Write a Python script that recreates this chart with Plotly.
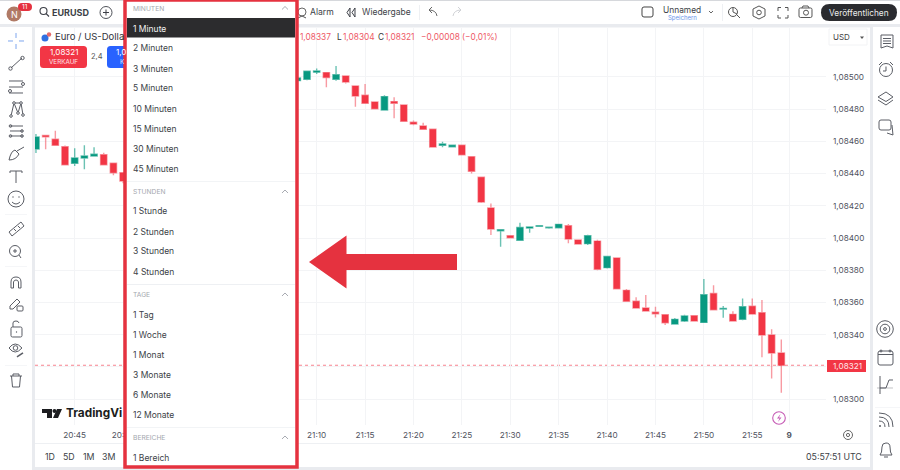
import plotly.graph_objects as go

# ---------- chart data ----------
times = ["20:41","20:42","20:43","20:44","20:45","20:46","20:47","20:48","20:49","20:50",
         "21:08","21:09","21:10","21:11","21:12","21:13","21:14","21:15","21:16","21:17","21:18","21:19",
         "21:20","21:21","21:22","21:23","21:24","21:25","21:26","21:27","21:28","21:29",
         "21:30","21:31","21:32","21:33","21:34","21:35","21:36","21:37","21:38","21:39",
         "21:40","21:41","21:42","21:43","21:44","21:45","21:46","21:47","21:48","21:49",
         "21:50","21:51","21:52","21:53","21:54","21:55","21:56","21:57","21:58"]
opens = [1.084553,1.084637,1.084613,1.084567,1.084464,1.084497,1.084509,1.084517,1.084464,1.084405,
         1.084977,1.084986,1.085030,1.085027,1.084986,1.085006,1.084944,1.084886,1.084845,1.084795,1.084847,1.084826,
         1.084719,1.084696,1.084675,1.084576,1.084567,1.084576,1.084505,1.084377,1.084186,1.084045,
         1.084014,1.083986,1.084062,1.084073,1.084064,1.084064,1.084076,1.083988,1.083965,1.083981,
         1.083816,1.083876,1.083675,1.083607,1.083565,1.083539,1.083524,1.083466,1.083484,1.083517,
         1.083476,1.083656,1.083559,1.083526,1.083495,1.083576,1.083536,1.083398,1.083286]
highs = [1.084646,1.084637,1.084666,1.084575,1.084557,1.084576,1.084563,1.084530,1.084466,1.084407,
         1.084994,1.085040,1.085052,1.085030,1.085068,1.085010,1.084946,1.084957,1.084847,1.084886,1.084874,1.084830,
         1.084729,1.084716,1.084678,1.084598,1.084576,1.084580,1.084508,1.084380,1.084215,1.084054,
         1.084018,1.084095,1.084070,1.084080,1.084071,1.084087,1.084087,1.083990,1.084020,1.083990,
         1.083890,1.083880,1.083683,1.083632,1.083646,1.083573,1.083526,1.083503,1.083524,1.083520,
         1.083745,1.083706,1.083578,1.083545,1.083625,1.083625,1.083615,1.083433,1.083370]
lows  = [1.084528,1.084551,1.084574,1.084450,1.084447,1.084427,1.084505,1.084450,1.084389,1.084340,
         1.084975,1.084980,1.085019,1.084936,1.084977,1.084960,1.084815,1.084834,1.084799,1.084793,1.084743,1.084720,
         1.084700,1.084673,1.084563,1.084563,1.084567,1.084514,1.084401,1.084217,1.084019,1.083946,
         1.084000,1.083984,1.084033,1.084070,1.084058,1.084063,1.083967,1.083960,1.083957,1.083800,
         1.083810,1.083680,1.083605,1.083563,1.083543,1.083507,1.083460,1.083463,1.083478,1.083482,
         1.083474,1.083552,1.083505,1.083480,1.083490,1.083526,1.083259,1.083128,1.083040]
closes= [1.084627,1.084629,1.084576,1.084455,1.084497,1.084509,1.084520,1.084455,1.084405,1.084354,
         1.084994,1.085035,1.085037,1.084996,1.085014,1.084969,1.084882,1.084837,1.084803,1.084878,1.084837,1.084725,
         1.084708,1.084675,1.084565,1.084584,1.084576,1.084517,1.084414,1.084224,1.084056,1.084052,
         1.084002,1.084066,1.084068,1.084076,1.084067,1.084085,1.083994,1.083963,1.084014,1.083806,
         1.083886,1.083685,1.083607,1.083565,1.083547,1.083530,1.083474,1.083495,1.083516,1.083484,
         1.083648,1.083555,1.083563,1.083484,1.083573,1.083528,1.083398,1.083286,1.083210]
last_price = 1.08321
price_ticks  = [1.0830,1.0832,1.0834,1.0836,1.0838,1.0840,1.0842,1.0844,1.0846,1.0848,1.0850]
price_labels = ["1,08300","","1,08340","1,08360","1,08380","1,08400","1,08420","1,08440","1,08460","1,08480","1,08500"]
time_ticks  = ["20:45","20:50","20:55","21:00","21:05","21:10","21:15","21:20","21:25","21:30","21:35","21:40","21:45","21:50","21:55","21:58:49"]
time_labels = ["20:45","20:50","","","","21:10","21:15","21:20","21:25","21:30","21:35","21:40","21:45","21:50","21:55","<b>9</b>"]
minutes_group = ["1 Minute","2 Minuten","3 Minuten","5 Minuten","10 Minuten","15 Minuten","30 Minuten","45 Minuten"]
hours_group = ["1 Stunde","2 Stunden","3 Stunden","4 Stunden"]
days_group = ["1 Tag","1 Woche","1 Monat","3 Monate","6 Monate","12 Monate"]
range_group = ["1 Bereich"]
ranges_bar = ["1D","5D","1M","3M"]

DAY = "2023-11-08 "
W, H = 900, 470
FONT = "Inter"
RED, GREEN = "#f23645", "#089981"
UI_RED = "#e5323f"
INK = "#3c3f47"
GREY = "#e9ebef"
SEP = "#eef0f3"

fig = go.Figure(go.Candlestick(
    x=[DAY + t for t in times], open=opens, high=highs, low=lows, close=closes,
    increasing=dict(fillcolor=GREEN, line=dict(color="rgba(8,153,129,0.6)", width=1.4)),
    decreasing=dict(fillcolor=RED, line=dict(color="rgba(242,54,69,0.5)", width=1.4)),
    whiskerwidth=0, showlegend=False, hoverinfo="skip"))

shapes, notes = [], []
def X(x): return x / W
def Y(y): return 1 - y / H
def rect(x0, y0, x1, y1, fill=None, line=None, lw=1):
    shapes.append(dict(type="rect", xref="paper", yref="paper", x0=X(x0), x1=X(x1), y0=Y(y0), y1=Y(y1),
                       fillcolor=fill or "rgba(0,0,0,0)", line=dict(color=line or "rgba(0,0,0,0)", width=lw if line else 0), layer="above"))
def path(cmds, fill=None, line=INK, lw=1):
    out = []
    for c in cmds:
        if c == "Z":
            out.append("Z")
        else:
            k, *p = c
            out.append(k + " " + " ".join(f"{X(p[i]):.5f} {Y(p[i+1]):.5f}" for i in range(0, len(p), 2)))
    shapes.append(dict(type="path", xref="paper", yref="paper", path=" ".join(out),
                       fillcolor=fill or "rgba(0,0,0,0)", line=dict(color=line or "rgba(0,0,0,0)", width=lw if line else 0), layer="above"))
def ln(*pts, color=INK, lw=1):
    path([("M", *pts[0])] + [("L", *p) for p in pts[1:]], line=color, lw=lw)
def rrect(x0, y0, x1, y1, r, fill=None, line=None, lw=1):
    path([("M", x0 + r, y0), ("L", x1 - r, y0), ("Q", x1, y0, x1, y0 + r), ("L", x1, y1 - r), ("Q", x1, y1, x1 - r, y1),
          ("L", x0 + r, y1), ("Q", x0, y1, x0, y1 - r), ("L", x0, y0 + r), ("Q", x0, y0, x0 + r, y0), "Z"], fill=fill, line=line, lw=lw)
def circ(cx, cy, r, fill=None, line=INK, lw=1):
    shapes.append(dict(type="circle", xref="paper", yref="paper", x0=X(cx - r), x1=X(cx + r), y0=Y(cy - r), y1=Y(cy + r),
                       fillcolor=fill or "rgba(0,0,0,0)", line=dict(color=line or "rgba(0,0,0,0)", width=lw if line else 0), layer="above"))
def T(x, y, s, size=9.5, color=INK, anchor="left", bold=False):
    notes.append(dict(xref="paper", yref="paper", x=X(x), y=Y(y), text=f"<b>{s}</b>" if bold else s, showarrow=False,
                      xanchor=anchor, yanchor="middle", borderpad=0, font=dict(family=FONT, size=size, color=color)))
def chev(cx, cy, color="#a8abb2"):
    ln((cx - 3, cy + 1.5), (cx, cy - 1.5), (cx + 3, cy + 1.5), color=color)

# ---------- frame ----------
rect(0, 0, W, 25, fill="white")
rect(0, 24, W, 27.5, fill=GREY)
rect(0, 0, W, 1, fill="#d6d8dc")
rect(0, 27, 32, H, fill="white")
rect(32, 25, 35, H, fill=GREY)
rect(870, 25, 873, H, fill=GREY)
rect(873, 27, W, H, fill="white")
rect(35, 467, 870, H, fill=GREY)
rect(35, 443, 870, 444, fill=SEP)

# ---------- top bar ----------
circ(14, 14, 7.5, fill="#b07a66", line=None)
T(14, 14.5, "N", 9, "white", "center")
rrect(18, 3, 32, 11, 4, fill=UI_RED)
T(25, 7, "11", 6.5, "white", "center")
circ(43.5, 11, 3.5, lw=1.1); ln((46, 13.5), (49, 16.5), lw=1.1)
T(50.5, 12.5, "EURUSD", 9, INK, bold=True)
circ(106, 12.5, 6, lw=0.9); ln((103, 12.5), (109, 12.5)); ln((106, 9.5), (106, 15.5))
circ(302, 12, 4, lw=0.9, line="#555"); ln((298, 18), (302, 16), (306, 18), color="#555")
T(308.5, 12.5, "Alarm", 8.6)
ln((350, 8), (347, 12.5), (350, 17), (350, 8)); ln((355, 8), (352, 12.5), (355, 17), (355, 8))
T(360.5, 12.5, "Wiedergabe", 8.5)
rect(419, 5, 420, 20, fill=SEP)
path([("M", 437, 16), ("Q", 436, 10, 429, 10), ("M", 432, 7), ("L", 429, 10), ("L", 432, 13)], line="#666")
path([("M", 453, 16), ("Q", 454, 10, 461, 10), ("M", 458, 7), ("L", 461, 10), ("L", 458, 13)], line="#d0d2d6")
rrect(642, 7, 653, 17, 2, line="#444", lw=1)
T(682, 9.5, "Unnamed", 8.4, INK, "center")
T(682, 18, "Speichern", 6, "#6b96ea", "center")
ln((709, 11), (711, 13), (713, 11), color="#666")
rect(722, 4, 723, 21, fill=SEP)
circ(733, 12, 4.5, lw=1, line="#555"); ln((733, 8), (733, 12), (737, 14), color="#555"); ln((737, 15), (740, 18), color="#555")
path([("M", 759, 6), ("L", 765, 9), ("L", 765, 16), ("L", 759, 19), ("L", 753, 16), ("L", 753, 9), "Z"], line="#555")
circ(759, 12.5, 2.3, line="#555")
for a, b, c, d in [(778, 11, 778, 7.5), (788, 11, 788, 7.5), (778, 15, 778, 18), (788, 15, 788, 18)]:
    ln((a, b), (c, d), (a + (3 if a == 778 else -3), d), color="#555")
rrect(799, 8, 812, 17.5, 1.5, line="#555"); circ(806, 12.7, 2.5, line="#555"); ln((802, 8), (803, 6), (808, 6), (809, 8), color="#555")
rrect(821, 4, 897, 21, 8.5, fill="#2a2b2f")
T(858.5, 12.7, "Veröffentlichen", 8.3, "#ececec", "center")

# ---------- legend area ----------
circ(45, 38, 3.5, fill="#2f6fe0", line=None); circ(49, 34.5, 2.2, fill="#e36a6a", line=None)
T(53.5, 37, "Euro / US-Dolla", 9.5, "#2f323a")
rrect(40, 46, 87, 68, 3.5, fill=RED)
T(63.5, 52.5, "1,08321", 8, "white", "center")
T(63.5, 62, "VERKAUF", 6.3, "#ffe3e6", "center")
T(97, 56.5, "2,4", 7.5, "#555", "center")
rrect(107, 46, 130, 68, 3.5, fill="#2962ff")
T(115, 52.5, "1,0", 8, "white", "left")
T(119, 62, "K", 6.3, "#dfe6ff", "left")
OHLC_RED = "#ee5a66"
T(299, 37, "1,08337", 8.3, OHLC_RED)
T(335.5, 37, "L", 8.3, "#333")
T(342, 37, "1,08304", 8.3, OHLC_RED)
T(377, 37, "C", 8.3, "#333")
T(384, 37, "1,08321", 8.3, OHLC_RED)
T(420, 37, "−0,00008 (−0,01%)", 8.3, OHLC_RED)

# ---------- price axis extras ----------
rect(829, 29, 867, 45, fill="white", line="#f2f3f5")
T(832, 37.5, "USD", 8, "#444")
path([("M", 860, 36.5), ("L", 864, 36.5), ("L", 862, 39), "Z"], fill="#555", line=None)
rect(827, 360, 866, 372, fill=RED)
T(847, 366, "1,08321", 8.2, "#ffe6e8", "center")
circ(848, 435, 4.5, line="#666"); circ(848, 435, 1.6, line="#666")

# ---------- bottom bar ----------
for x, s in zip([50, 69, 89, 108], ranges_bar):
    T(x, 456.5, s, 8.8, INK, "center")
T(863, 456.5, "05:57:51 UTC", 8.8, INK, "right")
circ(779, 418, 6.3, line="#c65bb5", lw=1.1)
path([("M", 780.5, 414), ("L", 777, 418.5), ("L", 779.5, 418.5), ("L", 778, 422), ("L", 781.5, 417.5), ("L", 779, 417.5), "Z"], fill="#c65bb5", line=None)

# ---------- TradingView logo ----------
path([("M", 42, 409), ("L", 52, 409), ("L", 52, 418), ("L", 47, 418), ("L", 47, 413), ("L", 42, 413), "Z"], fill="#1c1d20", line=None)
circ(54.5, 411, 2, fill="#1c1d20", line=None)
path([("M", 57, 409), ("L", 62, 409), ("L", 58, 418), ("L", 53, 418), "Z"], fill="#1c1d20", line=None)
T(64.5, 412.5, "TradingVi", 11.8, "#1c1d20", bold=True)

# ---------- left toolbar ----------
BL = "#7ea6ee"
for a in [((16, 33), (16, 38)), ((16, 44), (16, 49)), ((8, 41), (13, 41)), ((19, 41), (24, 41))]:
    ln(*a, color=BL)
C = "#5a5d65"
ln((11, 68), (22, 58), color=C); circ(10.5, 68.5, 1.7, line=C); circ(22.5, 58, 1.7, line=C)
for y in (81, 87, 93):
    ln((9, y), (23, y), color=C)
circ(23, 84, 1.5, line=C); circ(10, 91, 1.5, line=C)
ln((11, 116), (14, 103), (18, 113), (21, 103), (23, 115), color=C); ln((14, 103), (21, 103), color=C)
for p in [(11, 116), (14, 103), (18, 113), (21, 103), (23, 115)]:
    circ(p[0], p[1], 1.3, fill="white", line=C)
for y in (126, 131, 136):
    ln((10, y), (23, y), color=C)
circ(10.5, 126, 1.3, line=C); circ(22, 131, 1.3, line=C); circ(10.5, 136, 1.3, line=C); circ(22, 136, 1.3, line=C)
path([("M", 9, 160), ("Q", 11, 151, 15, 150), ("L", 19, 154), ("Q", 16, 160, 9, 160), "Z"], line=C)
ln((17, 151), (24, 147), color=C)
ln((10, 171), (22, 171), color=C); ln((16, 171), (16, 183), color=C); ln((10, 171), (10, 173), color=C); ln((22, 171), (22, 173), color=C)
circ(16, 199, 8, line=C); circ(13, 197, 0.7, fill=C, line=None); circ(19, 197, 0.7, fill=C, line=None)
path([("M", 12, 202), ("Q", 16, 206, 20, 202)], line=C)
rect(5, 214, 27, 214.6, fill=SEP)
path([("M", 9, 232), ("L", 21, 222), ("L", 24, 226), ("L", 12, 236), "Z"], line=C)
ln((14, 229), (16, 231), color=C); ln((18, 226), (20, 228), color=C)
circ(15, 251, 5.5, line=C); ln((13, 251), (17, 251), color=C); ln((15, 249), (15, 253), color=C); ln((19, 255), (21, 258), color=C)
rect(5, 266, 27, 266.6, fill=SEP)
path([("M", 11, 288), ("L", 11, 282), ("Q", 11, 277, 16, 277), ("Q", 21, 277, 21, 282), ("L", 21, 288), ("L", 18.5, 288), ("L", 18.5, 282), ("Q", 18, 280, 16, 280), ("Q", 14, 280, 13.5, 282), ("L", 13.5, 288), "Z"], line=C)
ln((10, 309), (10, 306), (17, 299), (20, 302), (13, 309), (10, 309), color=C)
rrect(17, 306, 23, 311, 1, line=C)
rrect(11, 327, 22, 337, 1.5, line=C); path([("M", 13, 327), ("L", 13, 323), ("Q", 13, 321, 16, 321), ("Q", 18.5, 321, 19, 323)], line=C)
circ(16.5, 332, 0.7, fill=C, line=None)
path([("M", 9, 348), ("Q", 15, 340, 22, 348), ("Q", 15, 356, 9, 348), "Z"], line=C); circ(15.5, 348, 2.3, line=C)
ln((17, 357), (23, 353), color=C, lw=1.5)
rect(5, 365, 27, 365.6, fill=SEP)
ln((10, 376), (22, 376), color=C); ln((13, 376), (13, 374), (19, 374), (19, 376), color=C)
ln((11.5, 376), (12.5, 387), (19.5, 387), (20.5, 376), color=C)

# ---------- right toolbar ----------
path([("M", 881, 35), ("L", 893, 35), ("L", 893, 48), ("L", 887, 46), ("L", 881, 48), "Z"], line=C)
for y in (38.5, 41, 43.5):
    ln((883, y), (891, y), color=C)
circ(886, 70, 6.5, line=C); ln((886, 66.5), (886, 71), (883, 71), color=C); ln((879, 65), (882, 62), color=C); ln((890, 62), (893, 65), color=C)
path([("M", 886, 92), ("L", 893, 97), ("L", 886, 101.5), ("L", 878, 97), "Z"], line=C)
path([("M", 878, 100), ("L", 886, 105), ("L", 893, 100)], line=C)
rrect(879, 120, 891, 130, 2, line=C); ln((892, 125), (893, 135), (887, 133), color=C)
circ(885, 329, 8.3, line=C); circ(885, 329, 4.8, line=C); circ(885, 329, 1.4, line=C)
rrect(878, 351, 893, 365, 2, line=C); ln((878, 354.5), (893, 354.5), color=C); circ(881, 351, 1, line=C); circ(890, 351, 1, line=C)
ln((880, 376), (880, 394), color=C); ln((880, 388), (886, 388), (889, 380), (893, 380), color=C); ln((877, 388), (893, 388), color="rgba(74,77,85,0.35)")
rect(875, 407, 900, 407.6, fill=SEP)
circ(880, 426, 1, fill=C, line=None)
path([("M", 879, 421), ("Q", 885, 421, 885, 427)], line=C)
path([("M", 879, 417), ("Q", 889, 417, 889, 427)], line=C)
path([("M", 879, 413), ("Q", 893, 413, 893, 427)], line=C)
path([("M", 880, 455), ("Q", 882, 453, 882, 447), ("Q", 882, 443, 886, 443), ("Q", 890, 443, 890, 447), ("Q", 890, 453, 892, 455), "Z"], line=C)
ln((884, 457), (888, 457), color=C)

# ---------- interval menu ----------
rect(125, 0, 297, 467, fill="white", line=UI_RED, lw=3.5)
rect(127, 18, 295, 37.5, fill="#2c2c2e")
def header(y, s):
    T(132, y, s, 6.7, "#a4a7ae")
    chev(285, y - 0.5)
def items(y_list, labels, first_dark=False):
    for i, (y, s) in enumerate(zip(y_list, labels)):
        T(132, y, s, 8.5, "#f2f2f2" if (first_dark and i == 0) else INK)
header(8.5, "MINUTEN")
items([28.5, 48.5, 68.5, 88.5, 108.5, 128.5, 148.5, 168.5], minutes_group, True)
rect(127, 181, 295, 181.7, fill=SEP)
header(192, "STUNDEN")
items([211.5, 231.5, 251.5, 271.5], hours_group)
rect(127, 284, 295, 285, fill=SEP)
header(295, "TAGE")
items([314.5, 334.5, 354.5, 374.5, 394.5, 414.5], days_group)
rect(127, 427, 295, 427.7, fill=SEP)
header(438, "BEREICHE")
items([457.5], range_group)

# ---------- big arrow ----------
path([("M", 309, 262), ("L", 346.5, 235.5), ("L", 346.5, 254), ("L", 457, 254), ("L", 457, 270), ("L", 346.5, 270), ("L", 346.5, 288.5), "Z"],
     fill=UI_RED, line=None)

# price line, under the chrome
shapes.insert(0, dict(type="line", xref="paper", yref="y", x0=X(35), x1=X(828), y0=last_price, y1=last_price,
                      line=dict(color="#f7838e", width=1, dash="dot"), layer="between"))

fig.update_layout(
    width=W, height=H, margin=dict(l=0, r=0, t=0, b=0), paper_bgcolor="white", plot_bgcolor="white",
    boxgap=0.35, boxgroupgap=0, separators=",.", showlegend=False, shapes=shapes, annotations=notes,
    font=dict(family=FONT, size=9, color="#50535e"), dragmode=False,
    xaxis=dict(domain=[X(35), X(826)], range=[DAY + "20:40:54", DAY + "22:02:37"], type="date", rangeslider=dict(visible=False),
               tickmode="array", tickvals=[DAY + t for t in time_ticks], ticktext=time_labels,
               showgrid=True, gridcolor="#f3f4f6", gridwidth=1, zeroline=False, showline=False, ticks="",
               ticklabelstandoff=4, tickfont=dict(family=FONT, size=8.2, color="#50535e"), fixedrange=True),
    yaxis=dict(domain=[Y(425), Y(28)], range=[1.082839, 1.085304], side="right", tickmode="array", tickvals=price_ticks,
               ticktext=price_labels, showgrid=True, gridcolor="#f3f4f6", gridwidth=1, zeroline=False, showline=False, ticks="",
               ticklabelstandoff=6, tickfont=dict(family=FONT, size=8.2, color="#50535e"), fixedrange=True),
)
fig.write_html("out.html", config=dict(displayModeBar=False),
               post_script="document.body.style.margin='0';")
